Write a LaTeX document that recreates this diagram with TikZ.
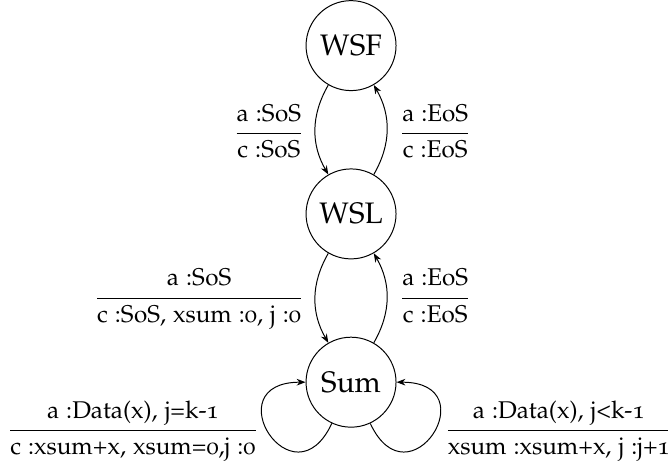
\documentclass[tikz,border=0pt]{standalone}
\usepackage[T1]{fontenc}
\usepackage[osf]{mathpazo}
\usepackage{amsmath}
\usepackage{tikz}
\usetikzlibrary{arrows.meta, positioning}
\newcommand{\tlabel}[2]{$\dfrac{\text{\strut#1}}{\text{\strut#2}}$}

\begin{document}
\begin{tikzpicture}[>={Stealth[length=3.6pt]}, node distance=1.1cm,
    state/.style={draw, circle, minimum size=1.28cm, inner sep=0pt, font=\large},
    lbl/.style={font=\fontsize{9.8pt}{12pt}\selectfont}]
    \useasboundingbox (-142.1pt, -34pt) rectangle (128.3pt, 154.7pt);
    \node[state] (Sum) at (0, 0) {Sum};
    \node[state, above=of Sum] (WSL) {WSL};
    \node[state, above=of WSL] (WSF) {WSF};

    \draw[->] (WSF) to[bend right=30] node[lbl, left=1pt, yshift=-1.5pt] {\tlabel{a :SoS}{c :SoS}} (WSL);
    \draw[->] (WSL) to[bend right=30] node[lbl, right=1.5pt, yshift=-1.5pt] {\tlabel{a :EoS}{c :EoS}} (WSF);
    \draw[->] (WSL) to[bend right=30] node[lbl, left=1pt] {\tlabel{a :SoS}{c :SoS, xsum :0, j :0}} (Sum);
    \draw[->] (Sum) to[bend right=30] node[lbl, right=1.5pt] {\tlabel{a :EoS}{c :EoS}} (WSL);

    % self loops on Sum
    \draw[->] (Sum.245) to[out=245, in=180, looseness=4.8]
        node[lbl, left=1pt, yshift=1.5pt] {\tlabel{a :Data(x), j=k-1}{c :xsum+x, xsum=0,j :0}} (Sum.180);
    \draw[->] (Sum.295) to[out=295, in=0, looseness=4.8]
        node[lbl, right=1.5pt, yshift=1.5pt] {\tlabel{a :Data(x), j<k-1}{xsum :xsum+x, j :j+1}} (Sum.0);
  \end{tikzpicture}
\end{document}
